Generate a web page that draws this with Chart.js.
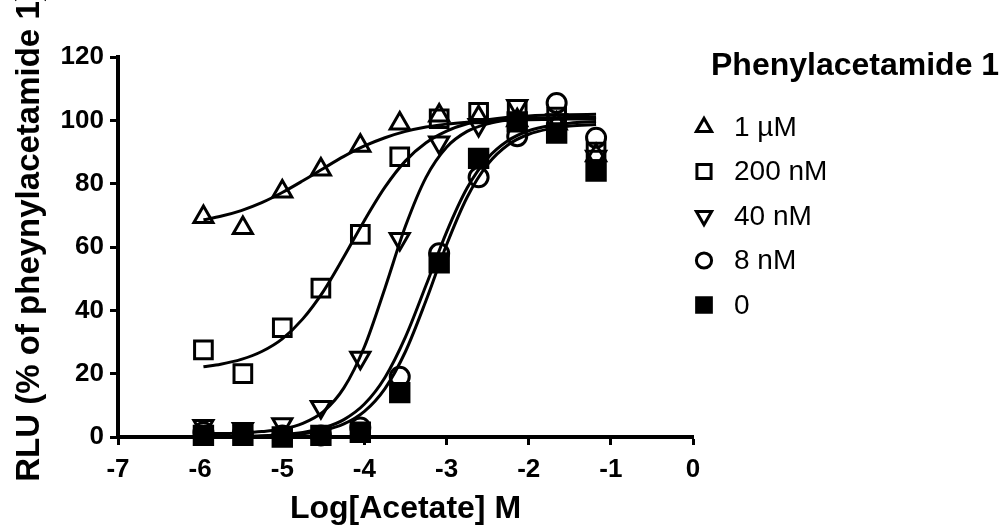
<!DOCTYPE html>
<html>
<head>
<meta charset="utf-8">
<script src="https://cdn.jsdelivr.net/npm/chart.js@4.4.1/dist/chart.umd.min.js"></script>
<style>
  html, body { margin: 0; padding: 0; background: #fff; }
  #wrap { width: 1006px; height: 531px; }
</style>
</head>
<body>
<div id="wrap"><canvas id="doseChart" width="1006" height="531"></canvas></div>
<script>
// measured points, x = log[acetate] (M)
const logAcetate = [-5.96, -5.48, -5.0, -4.53, -4.05, -3.57, -3.09, -2.61, -2.14, -1.66, -1.18];
const rlu1uM   = [69.5, 66, 77.5, 84.5, 92, 99, 101.5, 101, 100, 99, 89];
const rlu200nM = [27.5, 20, 34.5, 47, 64, 88.5, 100.5, 102.5, 103.5, 101, 90];
const rlu40nM  = [3.5, 2.5, 4, 9.5, 25, 62.5, 93, 98.5, 104.5, 100, 88.5];
const rlu8nM   = [1.5, 1, 0.5, 0.5, 3, 19, 58, 82, 95, 105.5, 94.5];
const rlu0     = [0.5, 0.5, 0, 0.5, 1.5, 14, 55, 88, 99.5, 96, 84];

// fitted curves
const curveLogAcetate = [-5.96, -5.75, -5.5, -5.25, -5.0, -4.75, -4.5, -4.25, -4.0, -3.75,
                         -3.5, -3.25, -3.0, -2.75, -2.5, -2.25, -2.0, -1.75, -1.5, -1.18];
const fit1uM   = [68.6, 69.7, 71.5, 74.0, 77.2, 80.9, 84.8, 88.6, 91.9, 94.5,
                  96.5, 97.9, 98.8, 99.4, 99.8, 100.0, 100.2, 100.3, 100.4, 100.4];
const fit200nM = [22.2, 23.0, 24.5, 27.0, 31.0, 37.3, 46.0, 56.9, 68.4, 78.9,
                  87.2, 92.9, 96.6, 98.9, 100.2, 101.0, 101.4, 101.7, 101.8, 101.9];
const fit40nM  = [1.1, 1.1, 1.3, 1.7, 2.5, 4.3, 8.0, 15.5, 28.5, 47.0,
                  66.6, 82.0, 91.5, 96.5, 98.9, 100.1, 100.6, 100.8, 100.9, 101.0];
const fit8nM   = [0.05, 0.09, 0.18, 0.37, 0.73, 1.44, 2.83, 5.49, 10.4, 18.8,
                  31.6, 47.9, 64.7, 78.6, 88.0, 93.6, 96.7, 98.3, 99.1, 99.6];
const fit0     = [0.03, 0.06, 0.12, 0.24, 0.49, 1.01, 2.05, 4.12, 8.1, 15.3,
                  27.0, 43.1, 60.7, 75.7, 86.1, 92.3, 95.6, 97.3, 98.2, 98.7];

const seriesLabels = ['1 \u00b5M', '200 nM', '40 nM', '8 nM', '0'];
const xTickValues = [-7, -6, -5, -4, -3, -2, -1, 0];
const yTickValues = [0, 20, 40, 60, 80, 100, 120];

const FONT = "'Liberation Sans', Arial, Helvetica, sans-serif";
Chart.defaults.font.family = FONT;
Chart.defaults.color = '#000';

const pts = ys => logAcetate.map((x, i) => ({ x: x, y: ys[i] }));
const fit = ys => curveLogAcetate.map((x, i) => ({ x: x, y: ys[i] }));

const markers = [
  { style: 'triangle', radius: 11, rotation: 0, fill: 'rgba(0,0,0,0)' },
  { style: 'rect', radius: 12.5, rotation: 0, fill: 'rgba(0,0,0,0)' },
  { style: 'triangle', radius: 11, rotation: 180, fill: 'rgba(0,0,0,0)' },
  { style: 'circle', radius: 9.5, rotation: 0, fill: 'rgba(0,0,0,0)' },
  { style: 'rect', radius: 13, rotation: 0, fill: '#000' }
];
const pointSets = [rlu1uM, rlu200nM, rlu40nM, rlu8nM, rlu0];
const fitSets = [fit1uM, fit200nM, fit40nM, fit8nM, fit0];

const datasets = [];
fitSets.forEach((ys, i) => {
  datasets.push({
    type: 'line',
    label: seriesLabels[i] + ' fit',
    data: fit(ys),
    borderColor: '#000',
    borderWidth: 3,
    pointRadius: 0,
    cubicInterpolationMode: 'monotone',
    fill: false,
    clip: false
  });
});
pointSets.forEach((ys, i) => {
  const m = markers[i];
  datasets.push({
    type: 'scatter',
    label: seriesLabels[i],
    data: pts(ys),
    pointStyle: m.style,
    pointRadius: m.radius,
    pointRotation: m.rotation,
    pointBorderWidth: 3,
    pointBorderColor: '#000',
    pointBackgroundColor: m.fill,
    showLine: false,
    clip: false
  });
});

// legend and y title, drawn by hand (y title sits a bit above the centre and runs off the top)
const sideLegend = {
  id: 'sideLegend',
  afterDraw(chart) {
    const ctx = chart.ctx;
    ctx.save();
    ctx.fillStyle = '#000';
    ctx.textBaseline = 'middle';

    ctx.save();
    ctx.translate(30, 236);
    ctx.rotate(-Math.PI / 2);
    ctx.textAlign = 'center';
    ctx.font = 'bold 33px ' + FONT;
    ctx.fillText('RLU (% of pheynylacetamide 1)', 0, 0);
    ctx.restore();

    ctx.font = 'bold 32px ' + FONT;
    ctx.fillText('Phenylacetamide 1', 711, 66);
    ctx.font = '28px ' + FONT;
    seriesLabels.forEach((lab, i) => {
      const y = 127 + i * 44.5;
      const m = markers[i];
      const opts = {
        pointStyle: m.style,
        radius: m.radius * 0.8,
        rotation: m.rotation,
        borderWidth: 3
      };
      ctx.strokeStyle = '#000';
      ctx.lineWidth = 3;
      ctx.fillStyle = m.fill === '#000' ? '#000' : 'rgba(0,0,0,0)';
      Chart.helpers.drawPoint(ctx, opts, 704, y);
      ctx.fillStyle = '#000';
      ctx.fillText(lab, 734, y + 1);
    });
    ctx.restore();
  }
};

new Chart(document.getElementById('doseChart'), {
  data: { datasets: datasets },
  plugins: [sideLegend],
  options: {
    responsive: false,
    animation: false,
    devicePixelRatio: 1,
    layout: { padding: { left: 0, top: 57, right: 313, bottom: 0 } },
    plugins: { legend: { display: false }, tooltip: { enabled: false } },
    scales: {
      x: {
        type: 'linear',
        min: -7,
        max: 0,
        afterBuildTicks: s => { s.ticks = xTickValues.map(v => ({ value: v })); },
        afterFit: s => { s.height = 94; },
        grid: { drawOnChartArea: false, drawTicks: true, tickLength: 8, tickWidth: 3, tickColor: '#000' },
        border: { display: true, color: '#000', width: 4 },
        ticks: { font: { size: 26, weight: 'bold' }, padding: 9, color: '#000' },
        title: { display: true, text: 'Log[Acetate] M', font: { size: 32, weight: 'bold' }, padding: { top: 0, bottom: 3 }, color: '#000' }
      },
      y: {
        type: 'linear',
        min: 0,
        max: 120,
        afterBuildTicks: s => { s.ticks = yTickValues.map(v => ({ value: v })); },
        afterFit: s => { s.width = 118; },
        grid: { drawOnChartArea: false, drawTicks: true, tickLength: 8, tickWidth: 3, tickColor: '#000' },
        border: { display: true, color: '#000', width: 4 },
        ticks: { font: { size: 26, weight: 'bold' }, padding: 6, color: '#000' },
        title: { display: false }
      }
    }
  }
});
</script>
</body>
</html>
